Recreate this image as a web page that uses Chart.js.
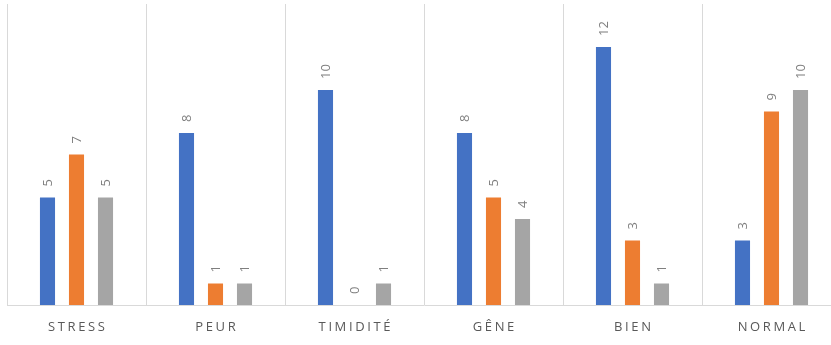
<!DOCTYPE html>
<html>
<head>
<meta charset="utf-8">
<script src="https://cdn.jsdelivr.net/npm/chart.js@4/dist/chart.umd.min.js"></script>
<style>
  html, body { margin: 0; padding: 0; background: #fff; overflow: hidden; }
  #wrap { width: 841px; height: 345px; }
</style>
</head>
<body>
<div id="wrap"><canvas id="c" width="841" height="345"></canvas></div>
<script>
// Categories and the three series (counts per emotion)
const categories = ['STRESS', 'PEUR', 'TIMIDITÉ', 'GÊNE', 'BIEN', 'NORMAL'];
const seriesA = [5, 8, 10, 8, 12, 3];
const seriesB = [7, 1, 0, 5, 3, 9];
const seriesC = [5, 1, 1, 4, 1, 10];
const yMax = 14;

const colors = ['#4472C4', '#ED7D31', '#A5A5A5'];

// Rotated value labels above each bar
const valueLabels = {
  id: 'valueLabels',
  afterDatasetsDraw(chart) {
    const ctx = chart.ctx;
    ctx.save();
    ctx.font = '13px "Open Sans", "Liberation Sans", sans-serif';
    ctx.fillStyle = '#7f7f7f';
    ctx.textAlign = 'left';
    ctx.textBaseline = 'middle';
    chart.data.datasets.forEach((ds, i) => {
      chart.getDatasetMeta(i).data.forEach((bar, j) => {
        ctx.save();
        ctx.translate(bar.x + 1, bar.y - 11);
        ctx.rotate(-Math.PI / 2);
        ctx.fillText(String(ds.data[j]), 0, 0);
        ctx.restore();
      });
    });
    ctx.restore();
  }
};

// Letter-spaced category labels under the axis
const spacedLabels = {
  id: 'spacedLabels',
  afterDraw(chart) {
    const ctx = chart.ctx;
    const xs = chart.scales.x;
    const ls = 2.6;
    ctx.save();
    ctx.font = '13px "Open Sans", "Liberation Sans", sans-serif';
    ctx.fillStyle = '#595959';
    ctx.letterSpacing = ls + 'px';
    ctx.textAlign = 'left';
    ctx.textBaseline = 'middle';
    categories.forEach((lab, i) => {
      const cx = xs.getPixelForValue(i);
      const w = ctx.measureText(lab).width - ls;
      ctx.fillText(lab, cx - w / 2, 327);
    });
    ctx.restore();
  }
};

new Chart(document.getElementById('c'), {
  type: 'bar',
  data: {
    labels: categories,
    datasets: [
      { data: seriesA, backgroundColor: colors[0] },
      { data: seriesB, backgroundColor: colors[1] },
      { data: seriesC, backgroundColor: colors[2] }
    ]
  },
  options: {
    responsive: false,
    animation: false,
    devicePixelRatio: 1,
    categoryPercentage: 0.626,
    barPercentage: 0.52,
    layout: { padding: { left: 7, top: 4, right: 0, bottom: 0 } },
    plugins: { legend: { display: false }, tooltip: { enabled: false } },
    scales: {
      x: {
        grid: { display: true, offset: true, color: '#d9d9d9', drawTicks: false, lineWidth: 1 },
        border: { display: true, color: '#d9d9d9' },
        ticks: { display: false },
        afterFit(scale) { scale.height = 40; }
      },
      y: {
        display: false,
        min: 0,
        max: yMax
      }
    }
  },
  plugins: [valueLabels, spacedLabels]
});
</script>
</body>
</html>
